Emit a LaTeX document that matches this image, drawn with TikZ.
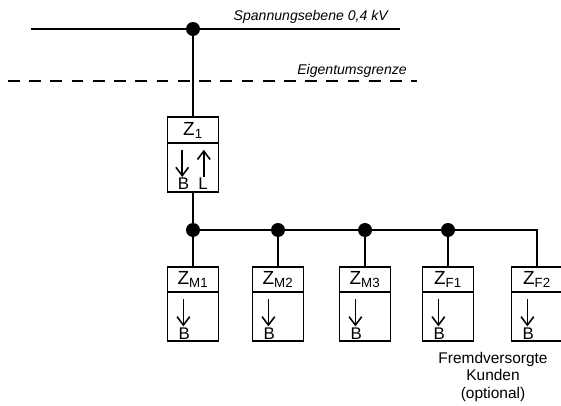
\documentclass[tikz,border=0pt]{standalone}
\usepackage{fontspec}
\setmainfont{Liberation Sans}
\usetikzlibrary{positioning,arrows.meta}
\tikzset{
   leitung/.style={line width=1.45pt},
   abzweig/.style={line width=1.1pt},
   punkt/.style={circle,fill=black,inner sep=0pt,minimum size=0.35cm},
   kopf/.style={draw,line width=1.4pt,outer sep=0pt,inner sep=0pt,minimum width=1.275cm,minimum height=0.63cm,font=\fontsize{13.5}{13.5}\selectfont},
   rumpf/.style={draw,line width=1.4pt,outer sep=0pt,inner sep=0pt,minimum width=1.275cm,minimum height=1.23cm},
   pfeil/.style={line width=1.1pt,-{Straight Barb[length=6pt,width=9pt]}},
   buchst/.style={inner sep=0pt,font=\fontsize{12}{12}\selectfont},
   ebene/.style={inner sep=0pt,font=\fontsize{10}{12}\selectfont\itshape}
}
\begin{document}
\begin{tikzpicture}
         \useasboundingbox (0,0) rectangle (14.025,10.125);
         %netz
         \coordinate (sa) at (0.775,9.4);
         \coordinate (se) at (10,9.4);
         \draw[leitung] (sa) -- (se);
         \node[punkt] (p0) at (4.825,9.4) {};
         \node[ebene, anchor=base east] (spg) at (9.7,9.6) {Spannungsebene 0,4 kV};
         %eigentumsgrenze
         \coordinate (ga) at (0.2,8.1);
         \coordinate (ge) at (10.425,8.1);
         \draw[leitung, dash pattern=on 8.4pt off 6.7pt] (ga) -- (ge);
         \node[ebene, anchor=base east] (eig) at (10.175,8.25) {Eigentumsgrenze};
         %zaehler Z1
         \node[kopf] (z1) at (4.825,6.875) {Z\textsubscript{1}};
         \node[rumpf, below=0pt of z1] (z1r) {};
         \draw[leitung] (p0.center) -- (z1.north);
         \draw[pfeil] ([xshift=-0.27cm,yshift=-0.18cm]z1r.north) -- ++(0,-0.68);
         \draw[pfeil] ([xshift=0.27cm,yshift=-0.86cm]z1r.north) -- ++(0,0.68);
         \node[buchst] (z1b) at ([xshift=-0.24cm,yshift=-1.02cm]z1r.north) {B};
         \node[buchst] (z1l) at ([xshift=0.25cm,yshift=-1.02cm]z1r.north) {L};
         %sammelschiene
         \node[punkt] (k1) at (4.825,4.375) {};
         \node[punkt] (k2) at (6.95,4.375) {};
         \node[punkt] (k3) at (9.125,4.375) {};
         \node[punkt] (k4) at (11.2,4.375) {};
         %unterzaehler
         \node[kopf] (zm1) at (4.825,3.14) {Z\textsubscript{M1}};
         \node[rumpf, below=0pt of zm1] (zm1r) {};
         \node[kopf] (zm2) at (6.95,3.14) {Z\textsubscript{M2}};
         \node[rumpf, below=0pt of zm2] (zm2r) {};
         \node[kopf] (zm3) at (9.125,3.14) {Z\textsubscript{M3}};
         \node[rumpf, below=0pt of zm3] (zm3r) {};
         \node[kopf] (zf1) at (11.2,3.14) {Z\textsubscript{F1}};
         \node[rumpf, below=0pt of zf1] (zf1r) {};
         \node[kopf] (zf2) at (13.425,3.14) {Z\textsubscript{F2}};
         \node[rumpf, below=0pt of zf2] (zf2r) {};
         \draw[abzweig] (z1r.south) -- (k1.center) -- (k4.center) -| (zf2.north);
         \draw[abzweig] (k1.center) -- (zm1.north);
         \draw[abzweig] (k2.center) -- (zm2.north);
         \draw[abzweig] (k3.center) -- (zm3.north);
         \draw[abzweig] (k4.center) -- (zf1.north);
         %bezug
         \draw[pfeil] ([xshift=-0.24cm,yshift=-0.18cm]zm1r.north) -- ++(0,-0.68);
         \node[buchst] (zm1b) at ([xshift=-0.22cm,yshift=-1.04cm]zm1r.north) {B};
         \draw[pfeil] ([xshift=-0.24cm,yshift=-0.18cm]zm2r.north) -- ++(0,-0.68);
         \node[buchst] (zm2b) at ([xshift=-0.22cm,yshift=-1.04cm]zm2r.north) {B};
         \draw[pfeil] ([xshift=-0.24cm,yshift=-0.18cm]zm3r.north) -- ++(0,-0.68);
         \node[buchst] (zm3b) at ([xshift=-0.22cm,yshift=-1.04cm]zm3r.north) {B};
         \draw[pfeil] ([xshift=-0.24cm,yshift=-0.18cm]zf1r.north) -- ++(0,-0.68);
         \node[buchst] (zf1b) at ([xshift=-0.22cm,yshift=-1.04cm]zf1r.north) {B};
         \draw[pfeil] ([xshift=-0.24cm,yshift=-0.18cm]zf2r.north) -- ++(0,-0.68);
         \node[buchst] (zf2b) at ([xshift=-0.22cm,yshift=-1.04cm]zf2r.north) {B};
         \node[align=center, font=\fontsize{11}{12.5}\selectfont] (fv) at (12.325,0.7) {Fremdversorgte\\Kunden\\(optional)};
      \end{tikzpicture}
\end{document}
